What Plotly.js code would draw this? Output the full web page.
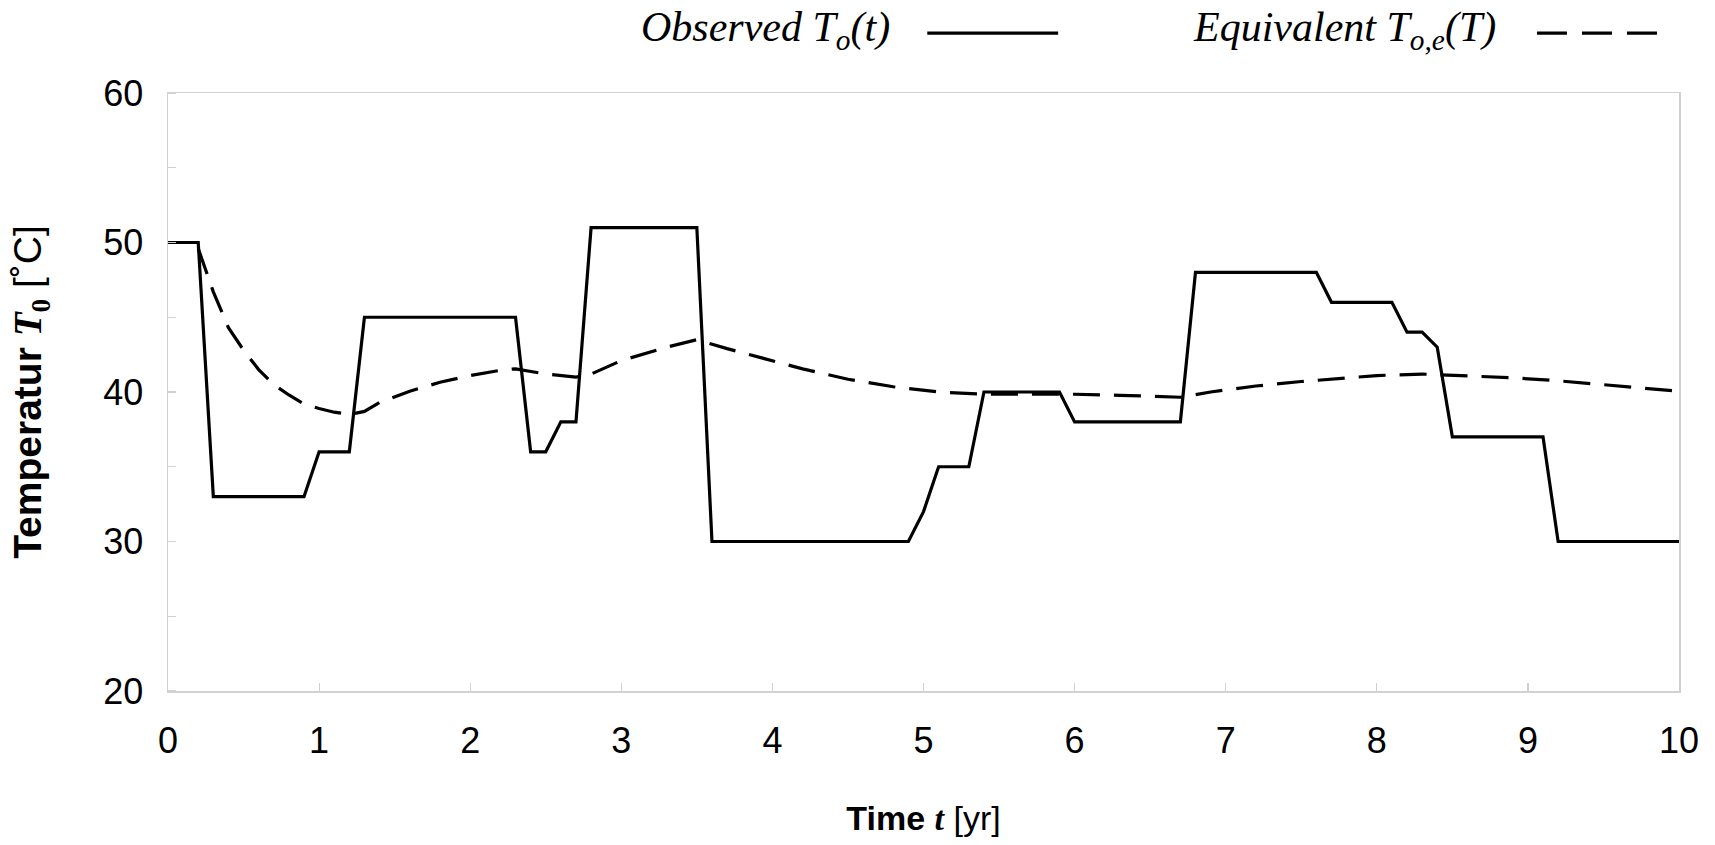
<!DOCTYPE html>
<html>
<head>
<meta charset="utf-8">
<script src="https://cdn.plot.ly/plotly-3.0.1.min.js"></script>
<style>html,body{margin:0;padding:0;background:#fff;}#chart{width:1715px;height:845px;}</style>
</head>
<body>
<div id="chart"></div>
<script>
// Observed temperature T_o(t)
const obsTime = [0, 0.2, 0.3, 0.9, 1.0, 1.2, 1.3, 2.3, 2.4, 2.5, 2.6, 2.7, 2.8, 3.5, 3.6, 4.9, 5.0, 5.1, 5.3, 5.4, 5.9, 6.0, 6.7, 6.8, 7.6, 7.7, 8.1, 8.2, 8.3, 8.4, 8.5, 9.1, 9.2, 10];
const obsTemp = [50, 50, 33, 33, 36, 36, 45, 45, 36, 36, 38, 38, 51, 51, 30, 30, 32, 35, 35, 40, 40, 38, 38, 48, 48, 46, 46, 44, 44, 43, 37, 37, 30, 30];

// Equivalent temperature T_o,e(T)
const eqTime = [0.2, 0.3, 0.4, 0.5, 0.6, 0.7, 0.8, 0.9, 1.0, 1.1, 1.2, 1.3, 1.4, 1.6, 1.8, 2.0, 2.2, 2.3, 2.5, 2.7, 2.8, 3.0, 3.3, 3.5, 3.7, 3.9, 4.2, 4.5, 4.8, 5.1, 5.4, 5.7, 6.0, 6.3, 6.7, 6.9, 7.2, 7.5, 7.8, 8.0, 8.3, 8.6, 8.9, 9.2, 9.5, 9.8, 10];
const eqTemp = [49.6, 46.7, 44.3, 42.8, 41.5, 40.5, 39.8, 39.2, 38.9, 38.65, 38.5, 38.7, 39.3, 40.05, 40.65, 41.1, 41.45, 41.55, 41.2, 41.0, 41.2, 42.1, 43.0, 43.5, 42.9, 42.35, 41.55, 40.85, 40.35, 40.0, 39.85, 39.85, 39.85, 39.78, 39.65, 40.0, 40.4, 40.7, 40.95, 41.1, 41.2, 41.1, 40.95, 40.75, 40.5, 40.25, 40.05];

const xTickVals = [0, 1, 2, 3, 4, 5, 6, 7, 8, 9, 10];
const yTickVals = [20, 30, 40, 50, 60];

const legendObserved = '<i>Observed T<sub>o</sub></i><i>(t)</i>';
const legendEquivalent = '<i>Equivalent T<sub>o,e</sub></i><i>(T)</i>';

const traces = [
  {x: obsTime, y: obsTemp, type: 'scatter', mode: 'lines', name: 'Observed',
   line: {color: '#000', width: 3.2}, showlegend: false},
  {x: eqTime, y: eqTemp, type: 'scatter', mode: 'lines', name: 'Equivalent',
   line: {color: '#000', width: 3.2, dash: '27px,14px'}, showlegend: false}
];

const axisCommon = {
  showline: true, linecolor: '#d2d2d2', linewidth: 1.5, mirror: true,
  showgrid: false, zeroline: false,
  tickfont: {family: 'Liberation Sans, Arial, sans-serif', size: 36, color: '#000'}
};

const layout = {
  width: 1715, height: 845,
  paper_bgcolor: '#fff', plot_bgcolor: '#fff',
  margin: {l: 167.5, r: 36, t: 93, b: 153.5},
  showlegend: false,
  xaxis: Object.assign({}, axisCommon, {
    range: [0, 10], tickvals: xTickVals, ticktext: xTickVals.map(String),
    ticks: 'inside', ticklen: 8, tickcolor: '#d2d2d2', tickwidth: 1.2,
    ticklabelstandoff: 17,
    title: {text: '<b>Time </b><span style="font-family:Liberation Serif"><b><i>t</i></b></span> [yr]',
            font: {family: 'Liberation Sans, Arial, sans-serif', size: 34, color: '#000'}, standoff: 46}
  }),
  yaxis: Object.assign({}, axisCommon, {
    range: [20, 60], tickvals: yTickVals, ticktext: yTickVals.map(String),
    ticks: '', ticklabelstandoff: 16,
    minor: {dtick: 5, ticks: 'inside', ticklen: 8, tickcolor: '#d2d2d2', tickwidth: 1.2, showgrid: false},
    title: {text: '<b>Temperatur </b><span style="font-family:Liberation Serif"><b><i>T</i></b><b><sub>0</sub></b></span> [˚C]',
            font: {family: 'Liberation Sans, Arial, sans-serif', size: 39, color: '#000'}, standoff: 49}
  }),
  annotations: [
    {text: legendObserved, xref: 'paper', yref: 'paper', x: 0.4793, y: 1.105,
     xanchor: 'right', yanchor: 'middle', showarrow: false,
     font: {family: 'Liberation Serif, Times New Roman, serif', size: 42, color: '#000'}},
    {text: legendEquivalent, xref: 'paper', yref: 'paper', x: 0.8802, y: 1.105,
     xanchor: 'right', yanchor: 'middle', showarrow: false,
     font: {family: 'Liberation Serif, Times New Roman, serif', size: 42, color: '#000'}}
  ],
  shapes: [
    {type: 'line', xref: 'paper', yref: 'paper', x0: 0.5025, x1: 0.5891, y0: 1.1, y1: 1.1,
     line: {color: '#000', width: 3.2}},
    {type: 'line', xref: 'paper', yref: 'paper', x0: 0.906, x1: 0.9855, y0: 1.1, y1: 1.1,
     line: {color: '#000', width: 3.2, dash: '30px,15px'}}
  ]
};

Plotly.newPlot('chart', traces, layout, {displayModeBar: false, staticPlot: true});
</script>
</body>
</html>
